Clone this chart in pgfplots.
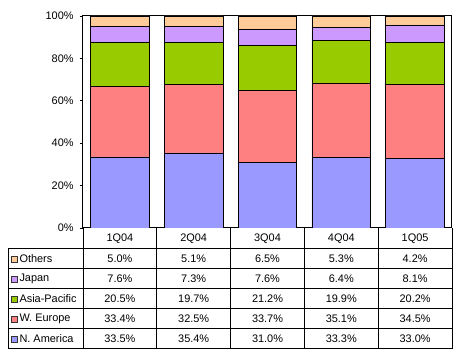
\documentclass[border=0pt]{standalone}
\usepackage{pgfplots}
\usepackage{pgfplotstable}
\pgfplotsset{compat=1.18}
\usepackage{fontspec}
\setmainfont{Liberation Sans}
\definecolor{cNA}{HTML}{9999FF}
\definecolor{cWE}{HTML}{FF8080}
\definecolor{cAP}{HTML}{99CC00}
\definecolor{cJP}{HTML}{CC99FF}
\definecolor{cOT}{HTML}{FFCC99}
\pgfkeys{/pgf/number format/assume math mode=true}
\pgfplotstableread{
x NA WE AP JP OT
0 33.5 33.4 20.5 7.6 5.0
1 35.4 32.5 19.7 7.3 5.1
2 31.0 33.7 21.2 7.6 6.5
3 33.3 35.1 19.9 6.4 5.3
4 33.0 34.5 20.2 8.1 4.2
}\data
\begin{document}
\fontsize{8.2}{10}\selectfont
\begin{tikzpicture}
\path[use as bounding box] (0,0) rectangle (343.5pt,-267pt);
\begin{axis}[
  at={(62.25pt,-171pt)}, anchor=south west,
  scale only axis, width=276.75pt, height=159pt,
  ybar stacked, bar width=0.795,
  xmin=-0.5, xmax=4.5, ymin=0, ymax=100,
  xtick=\empty,
  ytick={0,20,40,60,80,100},
  yticklabels={0\%,20\%,40\%,60\%,80\%,100\%},
  tick align=outside, major tick length=2.6pt,
  ytick pos=left,
  yticklabel style={font=\fontsize{8.2}{10}\selectfont, xshift=-1.5pt},
  axis line style={line width=0.75pt},
  every tick/.style={black, line width=0.6pt},
  /pgf/number format/assume math mode=true,
]
\addplot[fill=cNA, draw=black, line width=0.6pt] table[x=x,y=NA]{\data};
\addplot[fill=cWE, draw=black, line width=0.6pt] table[x=x,y=WE]{\data};
\addplot[fill=cAP, draw=black, line width=0.6pt] table[x=x,y=AP]{\data};
\addplot[fill=cJP, draw=black, line width=0.6pt] table[x=x,y=JP]{\data};
\addplot[fill=cOT, draw=black, line width=0.6pt] table[x=x,y=OT]{\data};
\end{axis}
\begin{scope}[x=0.75pt, y=-0.75pt, line width=0.75pt]
  % horizontal lines
  \foreach \yy in {249,269,289,309,329,349} \draw (8,\yy) -- (452,\yy);
  \draw (8,249) -- (8,349);
  \foreach \i in {0,...,5} {
    \pgfmathsetmacro{\xx}{83+73.8*\i}
    \draw (\xx,228) -- (\xx,349);
  }
  % header
  \foreach \i/\lab in {0/1Q04,1/2Q04,2/3Q04,3/4Q04,4/1Q05} {
    \pgfmathsetmacro{\xx}{83+73.8*(\i+0.5)}
    \node[inner sep=0pt] at (\xx,239) {\lab};
  }
  % row labels with keys
  \foreach \yy/\lab/\colr in {259/Others/cOT,279/Japan/cJP,299/Asia-Pacific/cAP,319/W. Europe/cWE,339/N. America/cNA} {
    \draw[fill=\colr, draw=black!80, line width=0.5pt] (11,\yy-3) rectangle (17,\yy+3);
    \node[anchor=west, inner sep=0pt] at (19,\yy) {\lab};
  }
  % values
  \foreach \r in {0,...,4} {
    \foreach \c/\yy in {OT/259,JP/279,AP/299,WE/319,NA/339} {
      \pgfmathsetmacro{\xx}{83+73.8*(\r+0.5)}
      \pgfplotstablegetelem{\r}{\c}\of\data
      \node[inner sep=0pt] at (\xx,\yy) {\pgfmathprintnumber[fixed,fixed zerofill,precision=1]{\pgfplotsretval}\%};
    }
  }
\end{scope}
\end{tikzpicture}
\end{document}
